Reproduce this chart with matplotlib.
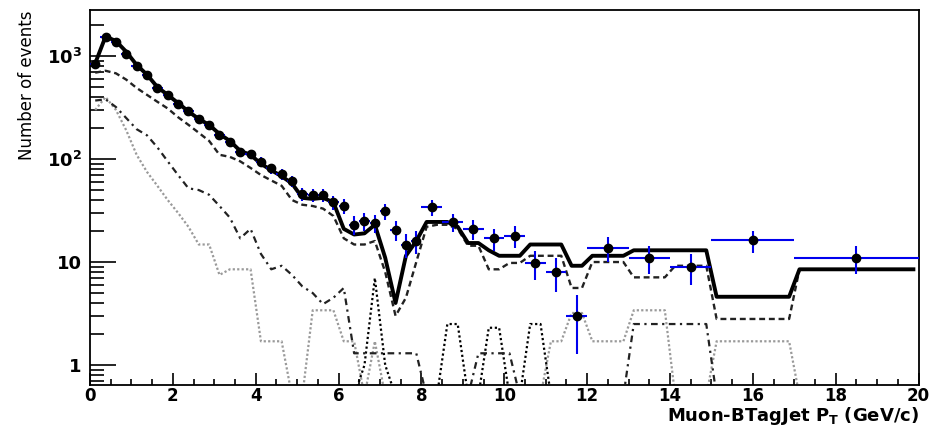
import numpy as np
import matplotlib
matplotlib.use("Agg")
import matplotlib.pyplot as plt
from matplotlib.ticker import MultipleLocator, LogLocator, NullFormatter

plt.rcParams['font.family'] = ['DejaVu Sans']
plt.rcParams['mathtext.fontset'] = 'dejavusans'
plt.rcParams['mathtext.default'] = 'bf'

# ---- data (counts per bin) ----
data_edges = np.concatenate([np.arange(0, 8.01, 0.25), [8.5, 9, 9.5, 10, 10.5, 11, 11.5, 12],
                             [13, 14, 15, 17, 20]])
data_counts = [830, 1520, 1380, 1050, 800, 650, 490, 415, 345, 290, 245, 215,
               170, 148, 118, 113, 94, 81, 71, 61, 46, 45, 45, 38,
               35, 23, 25, 24, 31, 20.5, 14.8, 16,
               34, 24.5, 21, 17, 18, 9.8, 8, 3,
               13.8, 10.9, 9.0, 16.2, 10.9]

# ---- MC templates (0.25 bins up to 12, then wider bins) ----
mc_edges = np.concatenate([np.arange(0, 12.01, 0.25), [13, 14, 15, 17, 20]])
mc_total = [850, 1550, 1400, 1100, 820, 660, 500, 420, 350, 290, 245, 215,
            175, 150, 120, 110, 90, 78, 68, 58, 42, 41, 42, 38,
            21, 18.5, 19, 23, 11, 4, 11.5, 16,
            24.5, 24.5, 24.5, 22, 15.3, 15.3, 13, 11.5, 11.5, 11.5, 14.8, 14.8,
            14.8, 14.8, 9.2, 9.2,
            11.5, 13, 13, 4.6, 8.5]
mc_dashed = [690, 720, 680, 590, 490, 420, 360, 310, 255, 215, 180, 150,
             110, 105, 95, 82, 70, 62, 55, 40, 36, 35, 33, 28,
             17, 14.8, 14.8, 16, 8, 3, 4.5, 10,
             22, 23, 23, 21, 14.4, 14.4, 8.5, 8.5, 9.8, 9.8, 11.5, 11.5,
             11.5, 11.5, 5.6, 5.6,
             10, 7.1, 9.2, 2.8, 8.5]
mc_dashdot = [370, 380, 320, 250, 195, 170, 130, 95, 70, 52, 50, 45,
              35, 27, 17, 21, 12, 8.5, 9.2, 7.5, 5.8, 5, 3.9, 4.5,
              5.6, 1.3, 1.3, 1.3, 1.3, 1.3, 1.3, 1.3,
              0, 0, 0, 0, 0, 1.3, 1.3, 1.3, 1.3, 0, 0, 0,
              0, 0, 0, 0,
              0, 2.5, 2.5, 0, 0]
mc_gray = [300, 400, 300, 190, 110, 75, 55, 40, 30, 22, 14.8, 14.8,
           7.5, 8.5, 8.5, 8.5, 1.7, 1.7, 1.7, 0, 0, 3.4, 3.4, 3.4,
           1.7, 1.7, 0, 1.7, 0, 0, 0, 0,
           0, 0, 0, 0, 0, 0, 0, 0, 0, 0, 0, 0,
           1.7, 1.7, 3.2, 3.2,
           1.7, 3.4, 0, 1.7, 0]
mc_dotted = [0, 0, 0, 0, 0, 0, 0, 0, 0, 0, 0, 0,
             0, 0, 0, 0, 0, 0, 0, 0, 0, 0, 0, 0,
             0, 0, 1, 7, 1, 0, 0, 0,
             0, 0, 2.5, 2.5, 0, 0, 2.3, 2.3, 0, 0, 2.5, 2.5,
             0, 0, 0, 0,
             0, 0, 0, 0, 0]

# MC curves are drawn through the centres of 0.25-wide sub-bins;
# empty bins sit just below the bottom of the log axis (as ROOT does)
step = 0.25
floor = 0.5
reps = np.round(np.diff(mc_edges) / step).astype(int)
xfine = np.arange(step / 2, 20, step)


def fine(vals):
    return np.maximum(np.repeat(np.asarray(vals, dtype=float), reps), floor)


fig = plt.figure(figsize=(9.32, 4.30), dpi=100)
ax = fig.add_axes([0.0966, 0.1047, 0.889, 0.872])
ax.set_yscale('log')

ax.plot(xfine, fine(mc_gray), color='#9a9a9a', lw=1.6, ls=(0, (1, 1)))
ax.plot(xfine, fine(mc_dotted), color='black', lw=1.6, ls=(0, (1, 1.2)))
ax.plot(xfine, fine(mc_dashdot), color='#222222', lw=1.6, ls=(0, (3, 2, 1, 2)))
ax.plot(xfine, fine(mc_dashed), color='#222222', lw=1.7, ls=(0, (2.5, 1.6)))
ax.plot(xfine, fine(mc_total), color='black', lw=2.8, solid_joinstyle='round')

centers = 0.5 * (data_edges[:-1] + data_edges[1:])
halfw = 0.5 * (data_edges[1:] - data_edges[:-1])
counts = np.array(data_counts)
ax.errorbar(centers, counts, xerr=halfw, yerr=np.sqrt(counts), fmt='o', color='black',
            ecolor='#0000ee', elinewidth=1.5, capsize=0, markersize=6, zorder=5)

ax.set_xlim(0, 20)
ax.set_ylim(0.64, 2800)
ax.set_xticks(range(0, 21, 2))
ax.xaxis.set_minor_locator(MultipleLocator(0.5))
ax.set_yticks([1, 10, 100, 1000])
ax.set_yticklabels(['1', '10', r'$10^{2}$', r'$10^{3}$'])
ax.yaxis.set_minor_locator(LogLocator(base=10, subs=np.arange(2, 10)))
ax.yaxis.set_minor_formatter(NullFormatter())

ax.tick_params(direction='in', which='both', top=False, right=False, width=1.2)
ax.tick_params(axis='x', which='major', length=8.5, pad=1.5, labelsize=12)
ax.tick_params(axis='x', which='minor', length=4.5)
ax.tick_params(axis='y', which='major', length=19, pad=6, labelsize=13)
ax.tick_params(axis='y', which='minor', length=10)
for lab in ax.get_xticklabels() + ax.get_yticklabels():
    lab.set_fontweight('bold')
for sp in ax.spines.values():
    sp.set_linewidth(1.3)

ax.set_xlabel(r'Muon-BTagJet P$_{T}$ (GeV/c)', loc='right', fontsize=13,
              fontweight='bold', labelpad=0)
ax.set_ylabel('Number of events', loc='top', fontsize=12, labelpad=8)

fig.savefig('out.png', dpi=100)
